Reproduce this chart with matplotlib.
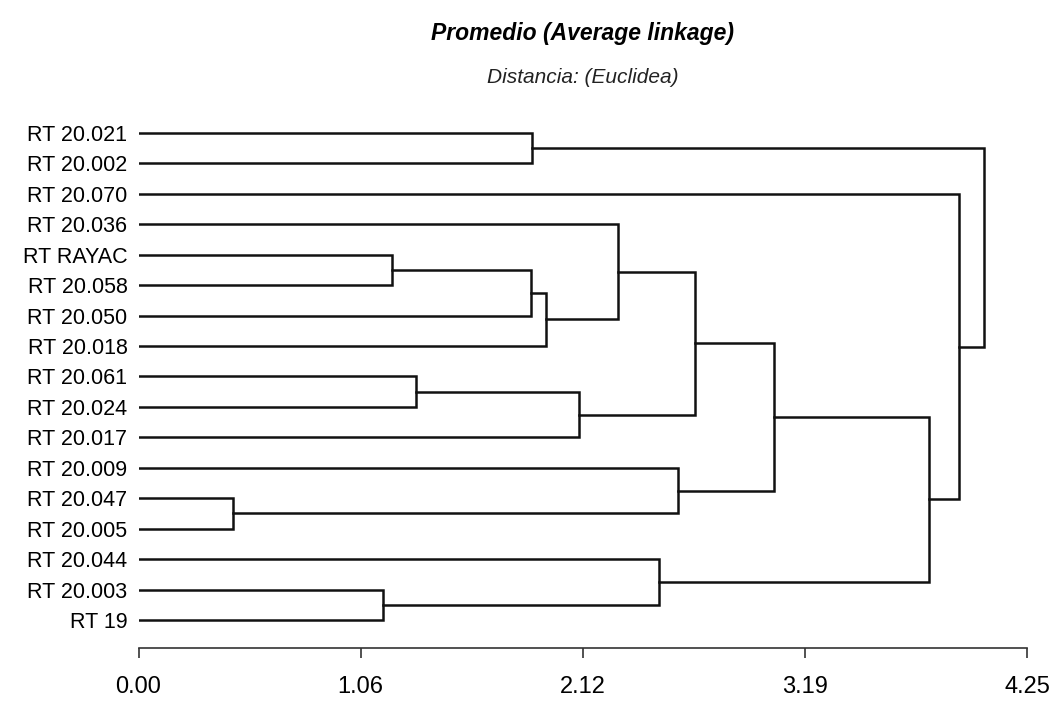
import matplotlib
matplotlib.use("Agg")
import matplotlib.pyplot as plt
from matplotlib import font_manager

# hojas de arriba hacia abajo
leaves = ["RT 20.021", "RT 20.002", "RT 20.070", "RT 20.036", "RT RAYAC",
          "RT 20.058", "RT 20.050", "RT 20.018", "RT 20.061", "RT 20.024",
          "RT 20.017", "RT 20.009", "RT 20.047", "RT 20.005", "RT 20.044",
          "RT 20.003", "RT 19"]

# uniones: cluster a, cluster b, distancia (nuevo id = 17, 18, ...)
merge_a = [12, 15, 4, 8, 19, 0, 21, 20, 3, 14, 11, 25, 28, 29, 2, 22]
merge_b = [13, 16, 5, 9, 6, 1, 7, 10, 23, 18, 17, 24, 27, 26, 30, 31]
merge_h = [0.452, 1.170, 1.213, 1.327, 1.877, 1.882, 1.949, 2.107,
           2.294, 2.490, 2.581, 2.662, 3.040, 3.781, 3.925, 4.044]

x_ticks = [0.00, 1.0625, 2.125, 3.1875, 4.25]
x_tick_labels = ["0.00", "1.06", "2.12", "3.19", "4.25"]

installed = {f.name for f in font_manager.fontManager.ttflist}
fam = "Liberation Sans Narrow" if "Liberation Sans Narrow" in installed else "Liberation Sans"
plt.rcParams["font.family"] = [fam, "DejaVu Sans"]

fig = plt.figure(figsize=(10.59, 7.27), dpi=100)
ax = fig.add_axes([0.1308, 0.1087, 0.839, 0.7293])

# posiciones de cada cluster
pos_y = {i: float(i) for i in range(len(leaves))}
pos_h = {i: 0.0 for i in range(len(leaves))}
new_id = len(leaves)
for a, b, h in zip(merge_a, merge_b, merge_h):
    ya, yb = pos_y[a], pos_y[b]
    ax.plot([pos_h[a], h, h, pos_h[b]], [ya, ya, yb, yb],
            color="#111111", lw=1.8, solid_joinstyle="miter")
    pos_y[new_id] = (ya + yb) / 2
    pos_h[new_id] = h
    new_id += 1

n = len(leaves)
ax.set_xlim(0, 4.25)
ax.set_ylim(n - 1 + 0.92, -0.5)

ax.set_yticks(range(n))
ax.set_yticklabels(leaves, fontsize=15.5)
ax.tick_params(axis="y", length=0, pad=8)

ax.set_xticks(x_ticks)
ax.set_xticklabels(x_tick_labels, fontsize=17)
ax.tick_params(axis="x", length=7, width=1.2, pad=13, color="#333333")

for s in ["top", "right", "left"]:
    ax.spines[s].set_visible(False)
ax.spines["bottom"].set_bounds(0, 4.25)
ax.spines["bottom"].set_color("#333333")
ax.spines["bottom"].set_linewidth(1.2)

fig.text(0.5505, 0.954, "Promedio (Average linkage)", ha="center", va="center",
         fontsize=16.5, fontweight="bold", fontstyle="italic")
fig.text(0.5505, 0.893, "Distancia: (Euclidea)", ha="center", va="center",
         fontsize=15, fontstyle="italic", color="#222222")

fig.savefig("out.png", dpi=100)
